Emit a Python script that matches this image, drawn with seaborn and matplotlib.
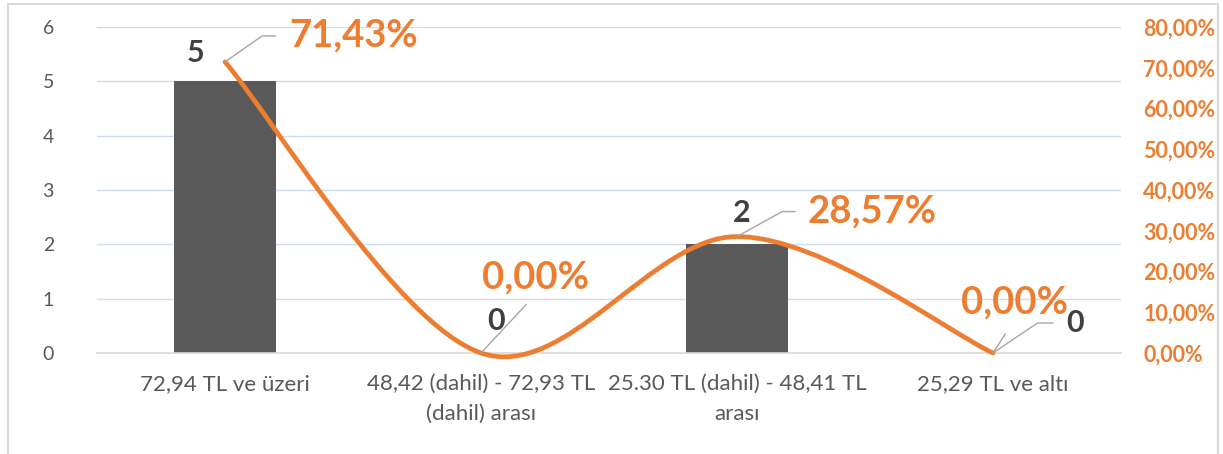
import numpy as np
import pandas as pd
import seaborn as sns
import matplotlib.pyplot as plt
from matplotlib.path import Path
from matplotlib.patches import PathPatch, Rectangle
from matplotlib.ticker import FuncFormatter

# veriler
categories = ["72,94 TL ve üzeri",
              "48,42 (dahil) - 72,93 TL\n(dahil) arası",
              "25.30 TL (dahil) - 48,41 TL\narası",
              "25,29 TL ve altı"]
counts = [5, 0, 2, 0]
shares = [71.43, 0.00, 28.57, 0.00]
count_labels = ["5", "0", "2", "0"]
share_labels = ["71,43%", "0,00%", "28,57%", "0,00%"]

sns.set_theme(style="white")
plt.rcParams['font.family'] = ['Lato', 'DejaVu Sans']

bar_color = '#595959'
line_color = '#ED7D31'
grid_color = '#CFDBEF'
leader_color = '#A6A6A6'
text_gray = '#595959'
label_dark = '#404040'

fig = plt.figure(figsize=(12.23, 4.54), dpi=100)
ax = fig.add_axes([0.0793, 0.2225, 0.8373, 0.718])

df = pd.DataFrame({"kategori": categories, "adet": counts, "oran": shares})
sns.barplot(data=df, x="kategori", y="adet", color=bar_color, width=0.4,
            saturation=1, linewidth=0, ax=ax, zorder=2)

ax.set_xlim(-0.5, len(categories) - 0.5)
ax.set_ylim(0, 6)
ax.set_yticks(range(7))
ax.yaxis.grid(True, color=grid_color, lw=1)
ax.set_axisbelow(True)
ax.set_xlabel("")
ax.set_ylabel("")
for s in ["top", "left", "right"]:
    ax.spines[s].set_visible(False)
ax.spines["bottom"].set_color('#D9D9D9')
ax.spines["bottom"].set_linewidth(1.2)
ax.tick_params(axis='y', length=0, pad=31, labelsize=14, labelcolor=text_gray)
ax.tick_params(axis='x', length=0, pad=15, labelsize=16, labelcolor=text_gray)
for t in ax.get_xticklabels():
    t.set_linespacing(1.65)

# sağ eksen: yüzde
ax2 = ax.twinx()
ax2.set_ylim(0, 80)
ax2.set_yticks(range(0, 81, 10))
ax2.yaxis.set_major_formatter(FuncFormatter(lambda v, p: f"{v:.2f}%".replace('.', ',')))
ax2.tick_params(axis='y', length=0, pad=16, labelsize=15.5, labelcolor=line_color)
for t in ax2.get_yticklabels():
    t.set_fontweight('bold')
for s in ax2.spines.values():
    s.set_visible(False)
ax2.grid(False)

# yumuşatılmış çizgi (Bezier)
xs = np.arange(len(shares), dtype=float)
ys = np.array(shares, dtype=float)
n = len(ys)
verts = [(xs[0], ys[0])]
codes = [Path.MOVETO]
for i in range(n - 1):
    a = i - 1 if i > 0 else i
    b = i + 2 if i + 2 < n else i + 1
    c1 = (xs[i] + (xs[i + 1] - xs[a]) / 6, ys[i] + (ys[i + 1] - ys[a]) / 6)
    c2 = (xs[i + 1] - (xs[b] - xs[i]) / 6, ys[i + 1] - (ys[b] - ys[i]) / 6)
    verts += [c1, c2, (xs[i + 1], ys[i + 1])]
    codes += [Path.CURVE4] * 3
ax2.add_patch(PathPatch(Path(verts, codes), fill=False, ec=line_color, lw=3.4,
                        capstyle='round', joinstyle='round', clip_on=False, zorder=3))

# yüzde etiketleri
pct_style = dict(textcoords='offset pixels', va='baseline', fontsize=27.5,
                 fontweight='bold', color=line_color)
ax2.annotate(share_labels[0], xy=(0, shares[0]), xytext=(64, 15), ha='left',
             arrowprops=dict(arrowstyle='-', color=leader_color, lw=1, shrinkA=7, shrinkB=0,
                             relpos=(0, 0.5), connectionstyle='angle,angleA=0,angleB=35'),
             **pct_style)
ax2.annotate(share_labels[1], xy=(1, shares[1]), xytext=(55, 65), ha='center',
             arrowprops=dict(arrowstyle='-', color=leader_color, lw=1, shrinkA=7, shrinkB=0,
                             relpos=(0.5, 0)),
             **pct_style)
ax2.annotate(share_labels[2], xy=(2, shares[2]), xytext=(71, 14), ha='left',
             arrowprops=dict(arrowstyle='-', color=leader_color, lw=1, shrinkA=7, shrinkB=0,
                             relpos=(0, 0.5), connectionstyle='angle,angleA=0,angleB=29'),
             **pct_style)
ax2.annotate(share_labels[3], xy=(3, shares[3]), xytext=(22, 40), ha='center',
             arrowprops=dict(arrowstyle='-', color=leader_color, lw=1, shrinkA=10, shrinkB=0,
                             relpos=(0.5, 0)),
             **pct_style)

# adet etiketleri
cnt_style = dict(textcoords='offset pixels', va='baseline', fontsize=22,
                 fontweight='bold', color=label_dark)
ax.annotate(count_labels[0], xy=(0, counts[0]), xytext=(-29, 19), ha='center', **cnt_style)
ax.annotate(count_labels[1], xy=(1, counts[1]), xytext=(15, 23), ha='center', **cnt_style)
ax.annotate(count_labels[2], xy=(2, counts[2]), xytext=(5, 22), ha='center', **cnt_style)
ax.annotate(count_labels[3], xy=(3, counts[3]), xytext=(73, 21), ha='left',
            arrowprops=dict(arrowstyle='-', color=leader_color, lw=1, shrinkA=7, shrinkB=0,
                            relpos=(0, 0.5), connectionstyle='angle,angleA=0,angleB=34'),
            **cnt_style)

# grafik çerçevesi
fig.patches.append(Rectangle((8 / 1223, -0.02), 1210 / 1223, 1.02 - 4 / 454,
                             transform=fig.transFigure, fill=False,
                             ec='#D9D9D9', lw=1.5, zorder=0))

plt.savefig("out.png", dpi=100)
